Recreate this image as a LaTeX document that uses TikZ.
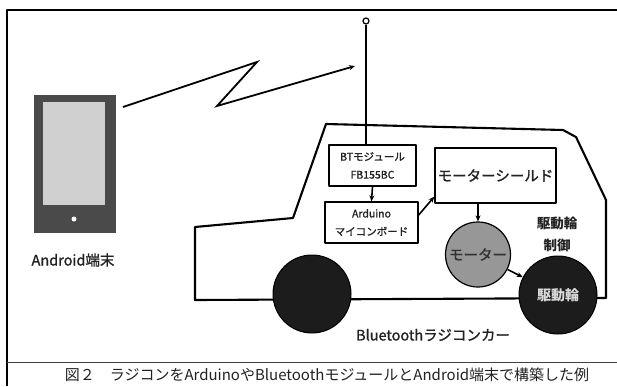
\documentclass[tikz,border=0pt]{standalone}
\usepackage{fontspec}
\setmainfont{Noto Sans CJK JP}
\newfontfamily\medfont{Noto Sans CJK JP}[FakeBold=1.2]
\usetikzlibrary{arrows.meta}
\definecolor{phonegray}{HTML}{4A4A4A}
\definecolor{screengray}{HTML}{D0D0D0}
\definecolor{motorgray}{HTML}{979797}
\definecolor{wheelblack}{HTML}{1C1C1C}
\definecolor{inkgray}{HTML}{222222}
\begin{document}
\begin{tikzpicture}[x=1pt,y=-1pt,line join=round,
  framestroke/.style={line width=2.6pt},
  bodystroke/.style={line width=2.1pt},
  boxnode/.style={draw,line width=1.3pt,fill=white,inner sep=0pt,align=center,text=inkgray},
  conn/.style={line width=1.6pt,-{Stealth[length=6pt,width=5pt]}},
  wheelnode/.style={circle,draw,line width=1pt,fill=wheelblack,minimum size=78pt,inner sep=0pt},
  label/.style={text=inkgray,inner sep=0pt},
]
\useasboundingbox (0,0) rectangle (617,386);
\fill[white] (0,0) rectangle (617,386);

% page frame and caption rule
\draw[framestroke] (7,386) -- (7,10) -- (617,10);
\draw[line width=1pt,black!75] (7,362) -- (617,362);

% handset
\node[fill=phonegray,minimum width=82pt,minimum height=138pt,inner sep=0pt] (phone) at (75,164) {};
\node[fill=screengray,minimum width=62pt,minimum height=103pt,inner sep=0pt] (screen) at (74,153.5) {};
\node[circle,fill=white,minimum size=5pt,inner sep=0pt] (homebtn) at (74,219) {};
\node[label,font=\medfont\fontsize{14.5}{16}\selectfont] (phonelbl) at (73,260) {Android端末};

% radio link (zigzag)
\coordinate (rf0) at (123,107);
\coordinate (rf1) at (257,62);
\coordinate (rf2) at (217,106);
\coordinate (rf3) at (355,66);
\draw[conn,line width=1.8pt,line join=miter] (rf0) -- (rf1) -- (rf2) -- (rf3);

% car body
\coordinate (c1) at (326,124);
\coordinate (c2) at (563,130);
\coordinate (c3) at (576,137);
\coordinate (c4) at (606,200);
\coordinate (c5) at (606,298);
\coordinate (c6) at (195,300);
\coordinate (c7) at (195,227);
\coordinate (c8) at (293,218);
\draw[bodystroke] (c1) -- (c2) -- (c3) -- (c4) -- (c5) -- (c6) -- (c7) -- (c8) -- cycle;

% antenna
\node[circle,draw,line width=1.2pt,fill=white,minimum size=6pt,inner sep=0pt] (ant) at (366,21) {};

% modules
\node[boxnode,minimum width=87pt,minimum height=41pt,font=\medfont\fontsize{10.5}{18}\selectfont] (bt) at (372.5,165.5) {BTモジュール\\FB155BC};
\node[boxnode,minimum width=93pt,minimum height=41pt,font=\medfont\fontsize{10.5}{18}\selectfont] (ard) at (371.5,222.5) {Arduino\\マイコンボード};
\node[boxnode,minimum width=121pt,minimum height=55pt,font=\medfont\fontsize{14.5}{16}\selectfont] (shd) at (495.5,175.5) {モーターシールド};
\draw[line width=1.4pt] (ant.south) -- (ant.south |- bt.north);

% motor and wheels
\node[circle,draw,line width=1.2pt,fill=motorgray,minimum size=65pt,inner sep=0pt,
      text=black!80,font=\medfont\fontsize{14.5}{16}\selectfont] (motor) at (478,254.5) {\raisebox{-5pt}{モーター}};
\node[wheelnode] (wheelL) at (312,294) {};
\node[wheelnode,text=white!85!black,font=\bfseries\fontsize{14}{16}\selectfont] (wheelR) at (558,295) {駆動輪};

% signal flow
\draw[conn] (bt.south) -- (ard.north);
\draw[conn] (ard.9) -- (shd.199);
\draw[conn] (motor.north |- shd.south) -- (motor.north);
\draw[conn] (motor) -- (wheelR);

% labels
\node[label,font=\bfseries\fontsize{13.5}{15}\selectfont] (ctl1) at (557,223) {駆動輪};
\node[label,font=\bfseries\fontsize{13.5}{15}\selectfont] (ctl2) at (557,245) {制御};
\node[label,font=\medfont\fontsize{14.5}{16}\selectfont] (carlbl) at (433,335) {Bluetoothラジコンカー};
\node[label,font=\fontsize{15}{16}\selectfont] (caption) at (327,375) {図２　ラジコンをArduinoやBluetoothモジュールとAndroid端末で構築した例};
\end{tikzpicture}
\end{document}
